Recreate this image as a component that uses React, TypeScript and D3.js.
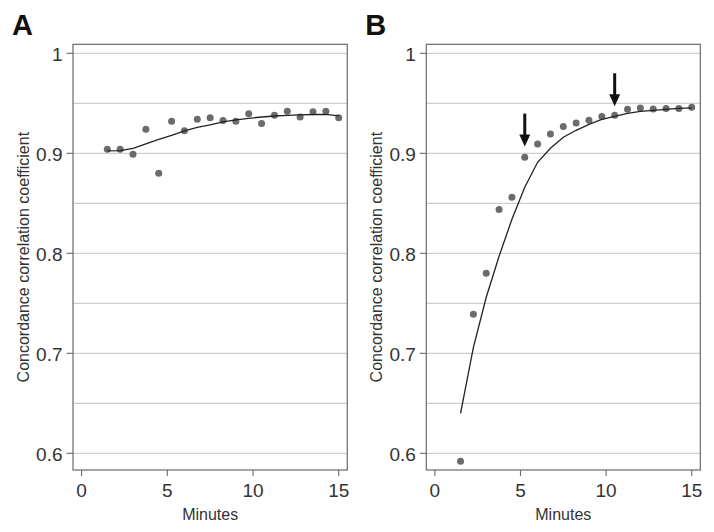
import React from "react";
import * as d3 from "d3";

const minutes = [1.5, 2.25, 3, 3.75, 4.5, 5.25, 6, 6.75, 7.5, 8.25, 9, 9.75, 10.5, 11.25, 12, 12.75, 13.5, 14.25, 15];

const pointsA = [0.904, 0.904, 0.899, 0.924, 0.880, 0.932, 0.9225, 0.934, 0.9355, 0.9327, 0.932, 0.9395, 0.9297, 0.938, 0.942, 0.9363, 0.9415, 0.942, 0.9355];
const fitA = [0.9025, 0.9027, 0.905, 0.9095, 0.914, 0.918, 0.9225, 0.926, 0.9285, 0.9315, 0.9335, 0.935, 0.9363, 0.9373, 0.938, 0.9384, 0.9388, 0.939, 0.9375];

const pointsB = [0.592, 0.739, 0.780, 0.8437, 0.856, 0.896, 0.9093, 0.9193, 0.9267, 0.9303, 0.933, 0.9367, 0.938, 0.944, 0.9453, 0.9443, 0.9447, 0.9447, 0.946];
const fitB = [0.640, 0.706, 0.756, 0.797, 0.834, 0.866, 0.891, 0.905, 0.916, 0.923, 0.929, 0.934, 0.937, 0.940, 0.942, 0.943, 0.944, 0.945, 0.9455];

const arrowsB = [
  { x: 5.25, tip: 0.9067 },
  { x: 10.5, tip: 0.947 },
];

const yTicks = [0.6, 0.7, 0.8, 0.9, 1];
const yGrid = [0.6, 0.65, 0.7, 0.75, 0.8, 0.85, 0.9, 0.95, 1];
const xTicks = [0, 5, 10, 15];
const yLabel = "Concordance correlation coefficient";
const xLabel = "Minutes";

const FONT = "'Liberation Sans', Arial, Helvetica, sans-serif";

type PanelProps = {
  letter: string;
  left: number;
  right: number;
  points: number[];
  fit: number[];
  arrows: { x: number; tip: number }[];
};

function Panel({ letter, left, right, points, fit, arrows }: PanelProps) {
  const top = 44.3;
  const bottom = 470;
  const x = d3.scaleLinear().domain([-0.5, 15.5]).range([left, right]);
  const y = d3.scaleLinear().domain([0.6, 1]).range([453.3, 53.3]);
  const line = d3
    .line<number>()
    .x((_, i) => x(minutes[i]))
    .y((d) => y(d));
  const labelX = left - 45;
  const midY = (top + bottom) / 2;
  return (
    <g>
      <text x={left - 61} y={35} fontFamily={FONT} fontWeight={900} fontSize={29} fill="#111">
        {letter}
      </text>
      {yGrid.map((g) => (
        <line key={g} x1={left} x2={right} y1={y(g)} y2={y(g)} stroke="#cfcfcf" strokeWidth={1.2} />
      ))}
      <rect x={left} y={top} width={right - left} height={bottom - top} fill="none" stroke="#6a6a6a" strokeWidth={1.2} />
      {yTicks.map((t) => (
        <g key={t}>
          <line x1={left - 6.5} x2={left} y1={y(t)} y2={y(t)} stroke="#6a6a6a" strokeWidth={1.1} />
          <text x={left - 10.5} y={y(t) + 7.6} textAnchor="end" fontFamily={FONT} fontSize={19} fill="#333">
            {String(t)}
          </text>
        </g>
      ))}
      {xTicks.map((t) => (
        <g key={t}>
          <line x1={x(t)} x2={x(t)} y1={bottom} y2={bottom + 6} stroke="#6a6a6a" strokeWidth={1.1} />
          <text x={x(t)} y={496.5} textAnchor="middle" fontFamily={FONT} fontSize={19} fill="#333">
            {String(t)}
          </text>
        </g>
      ))}
      <text x={(left + right) / 2} y={520} textAnchor="middle" fontFamily={FONT} fontSize={16} fill="#333">
        {xLabel}
      </text>
      <text
        transform={`translate(${labelX + 1},${midY}) rotate(-90)`}
        textAnchor="middle"
        fontFamily={FONT}
        fontSize={16}
        fill="#333"
      >
        {yLabel}
      </text>
      {points.map((v, i) => (
        <circle key={i} cx={x(minutes[i])} cy={y(v)} r={3.5} fill="#6b6b6b" />
      ))}
      <path d={line(fit) || ""} fill="none" stroke="#222" strokeWidth={1.3} />
      {arrows.map((a, i) => {
        const ax = x(a.x);
        const tipY = y(a.tip);
        return (
          <g key={i}>
            <line x1={ax} x2={ax} y1={tipY - 33} y2={tipY - 9} stroke="#111" strokeWidth={3} />
            <path d={`M${ax - 5.5},${tipY - 12} L${ax + 5.5},${tipY - 12} L${ax},${tipY} Z`} fill="#111" />
          </g>
        );
      })}
    </g>
  );
}

export default function App() {
  return (
    <svg
      width={714}
      height={532}
      style={{ position: "absolute", left: 0, top: 0, background: "#fff" }}
    >
      <rect x={0} y={0} width={714} height={532} fill="#fff" />
      <Panel letter="A" left={73} right={347.3} points={pointsA} fit={fitA} arrows={[]} />
      <Panel letter="B" left={426.3} right={700.3} points={pointsB} fit={fitB} arrows={arrowsB} />
    </svg>
  );
}
